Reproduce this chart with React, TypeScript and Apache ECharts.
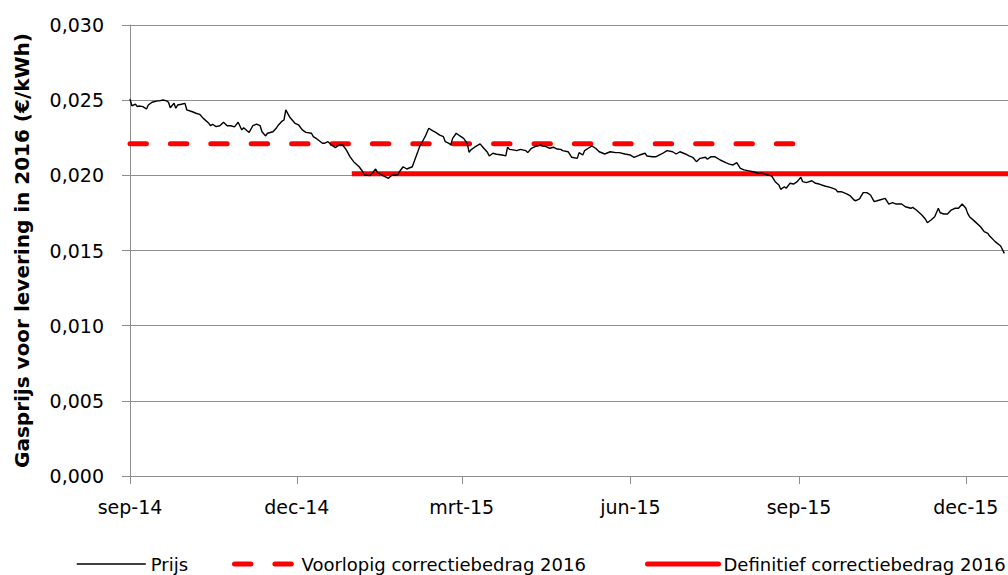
import React, { useEffect, useRef } from "react";
import * as echarts from "echarts";

// X axis: days since 1 Sep 2014
const tickDays = [0, 91, 181, 273, 365, 456];
const tickLabels = ["sep-14", "dec-14", "mrt-15", "jun-15", "sep-15", "dec-15"];
const axisMaxDay = 479;

const priceDays = [
  0, 1, 3, 4, 5, 7, 9, 10, 12, 15, 16, 18, 20, 21, 22, 24, 25, 26, 28, 30,
  31, 34, 36, 38, 40, 43, 44, 45, 47, 49, 51, 53, 55, 57, 59, 61, 62, 64, 65, 67,
  69, 71, 72, 74, 75, 78, 80, 81, 83, 84, 85, 87, 88, 90, 92, 94, 96, 99, 100, 102,
  105, 106, 108, 110, 112, 114, 116, 118, 120, 122, 125, 127, 128, 131, 134, 135, 138, 141, 143, 146,
  147, 149, 151, 154, 155, 157, 158, 160, 161, 163, 165, 167, 169, 171, 172, 174, 175, 176, 178, 180,
  182, 184, 185, 186, 188, 191, 193, 195, 196, 198, 200, 203, 205, 206, 207, 209, 211, 213, 216, 217,
  219, 221, 224, 225, 227, 229, 231, 233, 235, 236, 239, 241, 244, 245, 247, 248, 250, 252, 254, 256,
  259, 262, 265, 267, 270, 273, 275, 278, 281, 282, 285, 287, 290, 293, 296, 298, 300, 303, 305, 307,
  309, 311, 314, 315, 317, 319, 322, 325, 327, 329, 331, 333, 335, 337, 340, 343, 345, 348, 350, 352,
  354, 355, 357, 358, 360, 362, 364, 366, 367, 369, 372, 374, 376, 379, 382, 385, 386, 388, 391, 393,
  395, 396, 398, 400, 402, 404, 406, 409, 412, 414, 416, 418, 421, 423, 426, 427, 429, 432, 434, 435,
  437, 439, 441, 442, 444, 446, 448, 450, 452, 454, 456, 457, 458, 461, 464, 466, 468, 469, 472, 475,
  477,
];

const priceValues = [
  0.02508, 0.02463, 0.02473, 0.02457, 0.02461, 0.02457, 0.02441, 0.02468, 0.02486, 0.02495,
  0.02495, 0.02501, 0.02495, 0.02486, 0.0245, 0.02479, 0.02446, 0.02468, 0.02473, 0.02479,
  0.02435, 0.02423, 0.02413, 0.02406, 0.02379, 0.02346, 0.0233, 0.0234, 0.02324, 0.0233,
  0.02353, 0.0233, 0.0233, 0.02322, 0.02353, 0.02302, 0.02317, 0.02295, 0.02286, 0.0233,
  0.0234, 0.0233, 0.0229, 0.02262, 0.0228, 0.0229, 0.02317, 0.02335, 0.02361, 0.02368,
  0.02435, 0.0239, 0.02375, 0.02346, 0.02335, 0.02302, 0.02286, 0.0228, 0.02257, 0.02242,
  0.02213, 0.02213, 0.02224, 0.02202, 0.02184, 0.02202, 0.02202, 0.02169, 0.02124, 0.02091,
  0.02057, 0.02024, 0.02002, 0.01998, 0.02042, 0.0202, 0.01998, 0.0198, 0.02002, 0.02002,
  0.02024, 0.02057, 0.02042, 0.02057, 0.02091, 0.02157, 0.02191, 0.02235, 0.02257, 0.02313,
  0.02297, 0.02284, 0.02268, 0.02257, 0.02224, 0.02213, 0.02202, 0.02246, 0.0228, 0.02262,
  0.02246, 0.02213, 0.02153, 0.02169, 0.02187, 0.02209, 0.0218, 0.02153, 0.02129, 0.02147,
  0.0214, 0.02135, 0.02129, 0.02187, 0.02173, 0.02169, 0.02164, 0.02173, 0.02164, 0.02151,
  0.0218, 0.02191, 0.02202, 0.02195, 0.02191, 0.0218, 0.02187, 0.02175, 0.02173, 0.02164,
  0.02157, 0.0212, 0.02113, 0.02151, 0.02135, 0.02164, 0.0218, 0.02195, 0.0218, 0.02157,
  0.02142, 0.02157, 0.02151, 0.02151, 0.02142, 0.02135, 0.0212, 0.02135, 0.02147, 0.02129,
  0.02124, 0.02124, 0.02142, 0.02164, 0.02157, 0.02142, 0.02157, 0.02142, 0.02129, 0.0212,
  0.02091, 0.02113, 0.0212, 0.02107, 0.02124, 0.02124, 0.02102, 0.02084, 0.02075, 0.02069,
  0.02084, 0.02047, 0.02036, 0.02031, 0.02024, 0.02014, 0.02014, 0.02002, 0.01996, 0.01958,
  0.01936, 0.01907, 0.01924, 0.01914, 0.01947, 0.01942, 0.01958, 0.01987, 0.01958, 0.01951,
  0.01964, 0.01947, 0.01942, 0.01929, 0.0192, 0.01907, 0.01891, 0.01891, 0.01876, 0.01863,
  0.01836, 0.01831, 0.01843, 0.01885, 0.01885, 0.01869, 0.01825, 0.01836, 0.01847, 0.01809,
  0.01818, 0.01809, 0.01809, 0.01791, 0.01781, 0.01787, 0.01769, 0.01736, 0.01708, 0.01685,
  0.01703, 0.01725, 0.01781, 0.01751, 0.01743, 0.01743, 0.01769, 0.01781, 0.01781, 0.01809,
  0.01781, 0.01747, 0.01725, 0.01692, 0.01658, 0.01625, 0.01614, 0.01596, 0.01559, 0.0153,
  0.01481,
];

const voorlopigDays = [0, 364];
const voorlopigValue = 0.0221;
const definitiefDays = [121, 479];
const definitiefValue = 0.0201;

const seriesNames = ["Prijs", "Voorlopig correctiebedrag 2016", "Definitief correctiebedrag 2016"];

const FONT = "DejaVu Sans";
const GRID = "#8e8e8e";
const RED = "#ff0000";
const DASH = [16.4, 24];

export default function App() {
  const ref = useRef<HTMLDivElement>(null);

  useEffect(() => {
    if (!ref.current) return;
    const chart = echarts.init(ref.current, undefined, { renderer: "svg" });
    const priceData = priceDays.map((d, i) => [d, priceValues[i]]);
    const voorlopigData = voorlopigDays.map((d) => [d, voorlopigValue]);
    const definitiefData = definitiefDays.map((d) => [d, definitiefValue]);

    const legendText = { fontFamily: FONT, fontSize: 18, color: "#000" };
    const option = {
      animation: false,
      textStyle: { fontFamily: FONT },
      grid: { left: 130, top: 25, right: 0, bottom: 99, containLabel: false },
      xAxis: {
        type: "value",
        min: 0,
        max: axisMaxDay,
        axisLine: { show: true, lineStyle: { color: GRID, width: 1 } },
        axisTick: {
          show: true,
          customValues: tickDays,
          length: 8,
          lineStyle: { color: GRID, width: 1 },
        },
        axisLabel: {
          customValues: tickDays,
          formatter: (v: number) => {
            const i = tickDays.indexOf(Math.round(v));
            return i >= 0 ? tickLabels[i] : "";
          },
          color: "#000",
          fontSize: 19,
          fontFamily: FONT,
          margin: 21,
        },
        splitLine: { show: false },
      },
      yAxis: {
        type: "value",
        min: 0,
        max: 0.03,
        interval: 0.005,
        name: "Gasprijs voor levering in 2016 (€/kWh)",
        nameLocation: "middle",
        nameGap: 98,
        nameTextStyle: { fontFamily: FONT, fontWeight: "bold", fontSize: 20, color: "#000" },
        axisLine: { show: true, lineStyle: { color: GRID, width: 1 } },
        axisTick: { show: true, length: 8, lineStyle: { color: GRID, width: 1 } },
        axisLabel: {
          formatter: (v: number) => v.toFixed(3).replace(".", ","),
          color: "#000",
          fontSize: 19,
          fontFamily: FONT,
          margin: 26,
        },
        splitLine: { show: true, lineStyle: { color: GRID, width: 1 } },
      },
      legend: [
        {
          data: [
            {
              name: seriesNames[0],
              itemStyle: { opacity: 0 },
              lineStyle: { color: "#000", width: 1.5, type: "solid", opacity: 1 },
            },
          ],
          left: 71,
          top: 550,
          itemWidth: 69,
          itemHeight: 14,
          itemGap: 0,
          selectedMode: false,
          textStyle: legendText,
        },
        {
          data: [
            {
              name: seriesNames[1],
              itemStyle: { opacity: 0 },
              lineStyle: { color: RED, width: 5, type: DASH, cap: "round", opacity: 1 },
            },
          ],
          left: 227,
          top: 550,
          itemWidth: 62,
          itemHeight: 14,
          itemGap: 0,
          selectedMode: false,
          textStyle: legendText,
        },
        {
          data: [
            {
              name: seriesNames[2],
              itemStyle: { opacity: 0 },
              lineStyle: { color: RED, width: 5, type: "solid", cap: "round", opacity: 1 },
            },
          ],
          left: 640,
          top: 550,
          itemWidth: 71,
          itemHeight: 14,
          itemGap: 0,
          selectedMode: false,
          textStyle: legendText,
        },
      ],
      series: [
        {
          name: seriesNames[0],
          type: "line",
          data: priceData,
          symbol: "none",
          lineStyle: { color: "#000", width: 1.4 },
          itemStyle: { color: "#000" },
          z: 3,
        },
        {
          name: seriesNames[1],
          type: "line",
          data: voorlopigData,
          symbol: "none",
          lineStyle: { color: RED, width: 5, type: DASH, cap: "round" },
          itemStyle: { color: RED },
          z: 2,
        },
        {
          name: seriesNames[2],
          type: "line",
          data: definitiefData,
          symbol: "none",
          lineStyle: { color: RED, width: 5, type: "solid" },
          itemStyle: { color: RED },
          z: 2,
        },
      ],
    };
    chart.setOption(option as any);
    return () => chart.dispose();
  }, []);

  return (
    <div
      ref={ref}
      style={{ position: "fixed", left: 0, top: 0, width: 1008, height: 575, background: "#fff" }}
    />
  );
}
